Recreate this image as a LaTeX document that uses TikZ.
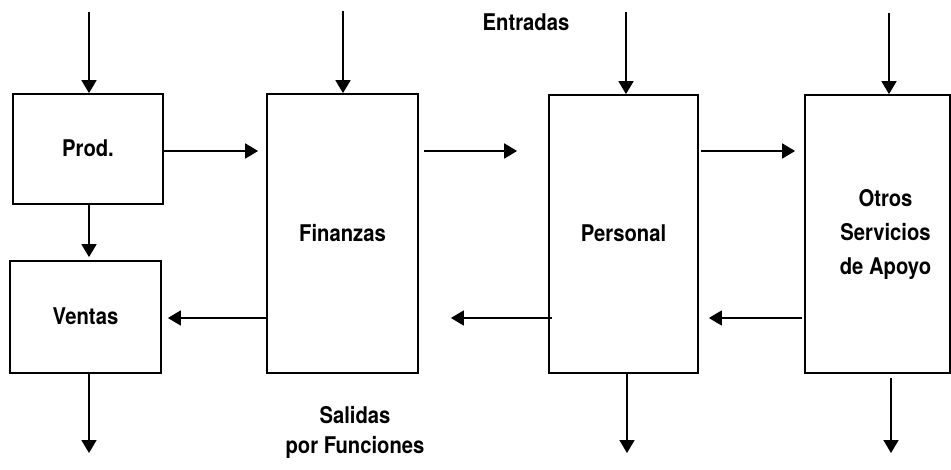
\documentclass[tikz,border=0pt]{standalone}
\usepackage{fontspec}
\setmainfont{TeX Gyre Heros}[FakeStretch=0.88]
\usetikzlibrary{arrows.meta}
\begin{document}
\begin{tikzpicture}[x=1pt,y=-1pt,
  font=\fontsize{23}{34}\selectfont\bfseries,
  box/.style={draw,line width=1.8pt,inner sep=0pt,text height=16pt,text depth=0pt,align=center},
  arr/.style={line width=1.8pt,-{Triangle[length=13pt,width=15pt]}},
  lbl/.style={inner sep=0pt,anchor=base}]
\useasboundingbox (0,0) rectangle (951,470);
% boxes
\node[box,minimum width=150pt,minimum height=110pt] (prod) at (88,149) {Prod.};
\node[box,minimum width=151pt,minimum height=112pt] (ventas) at (85.5,317) {Ventas};
\node[box,minimum width=151pt,minimum height=279pt] (fin) at (342.5,233.5) {Finanzas};
\node[box,minimum width=149pt,minimum height=278pt] (pers) at (623.5,234) {Personal};
\node[box,text height=,text depth=,minimum width=145pt,minimum height=278pt] (otros) at (877.5,234) {\hspace*{16pt}Otros\\\hspace*{16pt}Servicios\\\hspace*{16pt}de Apoyo};
% texts
\node[lbl] (entr) at (526,31) {Entradas};
\node[lbl,align=center,font=\fontsize{23}{29}\selectfont\bfseries] (sal) at (355,453) {Salidas\\por Funciones};
% input coordinates
\coordinate (i1) at (89,12);
\coordinate (i2) at (343,11);
\coordinate (i3) at (626,12);
\coordinate (i4) at (889,13);
\draw[arr] (i1) -- (i1 |- prod.north);
\draw[arr] (i2) -- (i2 |- fin.north);
\draw[arr] (i3) -- (i3 |- pers.north);
\draw[arr] (i4) -- (i4 |- otros.north);
% outputs
\coordinate (o1) at (89,453);
\coordinate (o3) at (627,453);
\coordinate (o4) at (891,453);
\draw[arr] (o1 |- ventas.south) -- (o1);
\draw[arr] (o3 |- pers.south) -- (o3);
\draw[arr,shorten <=4pt] (o4 |- otros.south) -- (o4);
% prod -> ventas
\draw[arr,shorten >=3pt] (i1 |- prod.south) -- (i1 |- ventas.north);
% rightward flows
\coordinate (r) at (0,151);
\draw[arr,shorten >=8pt] (prod.east |- r) -- (fin.west |- r);
\draw[arr,shorten <=5pt,shorten >=31pt] (fin.east |- r) -- (pers.west |- r);
\draw[arr,shorten <=2pt,shorten >=9pt] (pers.east |- r) -- (otros.west |- r);
% leftward flows
\coordinate (l) at (0,318);
\draw[arr,shorten >=6pt] (fin.west |- l) -- (ventas.east |- l);
\draw[arr,shorten <=-4pt,shorten >=32pt] (pers.west |- l) -- (fin.east |- l);
\draw[arr,shorten <=2pt,shorten >=10pt] (otros.west |- l) -- (pers.east |- l);
\end{tikzpicture}
\end{document}
